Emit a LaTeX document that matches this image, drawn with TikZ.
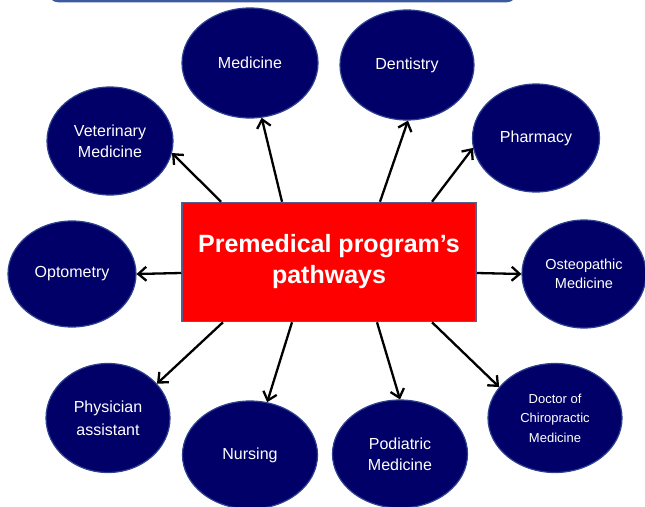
\documentclass[tikz,border=0pt]{standalone}
\usepackage{fontspec}
\setmainfont{Liberation Sans}
\usepackage{xcolor}
\usepackage{tikz}
\usetikzlibrary{shapes.geometric}
\usetikzlibrary{arrows.meta}

\definecolor{navy}{RGB}{0,0,104}
\definecolor{navyrim}{RGB}{45,65,145}
\definecolor{hubrim}{RGB}{85,95,140}
\definecolor{framebl}{RGB}{60,90,160}

\begin{document}
\begin{tikzpicture}[
  x=1pt, y=-1pt,
  pway/.style={ellipse, fill=navy, draw=navyrim, line width=1.2pt, text=white,
    align=center, inner sep=0pt, minimum width=128pt, minimum height=108pt,
    font=\fontsize{16}{21}\selectfont},
  hub/.style={rectangle, fill=red, draw=hubrim, line width=1.5pt, text=white,
    align=center, minimum width=294pt, minimum height=119pt,
    font=\bfseries\fontsize{25}{31}\selectfont},
  arr/.style={line width=2.3pt, -{Straight Barb[length=8pt,width=14pt]}}
]

\useasboundingbox (0,0) rectangle (645,506);

\draw [framebl, line width=2.5pt, rounded corners=8pt] (50,-20) -- (50,1) -- (515,1) -- (515,-20);

\node [hub] (hub) at (329,262) {Premedical program's\\pathways};

\node [pway, minimum width=136pt, minimum height=110pt] (med) at (250,63) {Medicine};
\node [pway, minimum width=134pt, minimum height=110pt] (dent) at (407,65) {Dentistry};
\node [pway, minimum width=126pt] (vet) at (110,141) {Veterinary\\Medicine};
\node [pway, minimum width=127pt] (pharm) at (536,138) {Pharmacy};
\node [pway, minimum height=106pt] (opt) at (72,274) {Optometry};
\node [pway, minimum width=124pt, font=\fontsize{14.5}{19}\selectfont] (osteo) at (584,274) {Osteopathic\\Medicine};
\node [pway, minimum width=124pt, minimum height=109pt, font=\fontsize{16}{23}\selectfont] (phys) at (108,418) {Physician\\assistant};
\node [pway, minimum width=135pt] (nurs) at (250,455) {Nursing};
\node [pway, minimum width=135pt] (pod) at (400,454) {Podiatric\\Medicine};
\node [pway, minimum width=134pt, minimum height=109pt, font=\fontsize{13}{19.5}\selectfont] (chiro) at (555,418) {Doctor of\\Chiropractic\\Medicine};

\draw [arr] ([xshift=-108pt]hub.north) -- (vet.-11);
\draw [arr] ([xshift=-47pt]hub.north) -- (med.-78);
\draw [arr] ([xshift=51pt]hub.north) -- (dent.-89);
\draw [arr] ([xshift=103pt]hub.north) -- (pharm.-171);
\draw [arr] ([yshift=-11pt]hub.west) -- (opt.east);
\draw [arr] ([yshift=-11pt]hub.east) -- (osteo.west);
\draw [arr] ([xshift=-106pt]hub.south) -- (phys.35);
\draw [arr] ([xshift=-37pt]hub.south) -- (nurs.72);
\draw [arr] ([xshift=48pt]hub.south) -- (pod.north);
\draw [arr] ([xshift=103pt]hub.south) -- (chiro.151);

\end{tikzpicture}
\end{document}
